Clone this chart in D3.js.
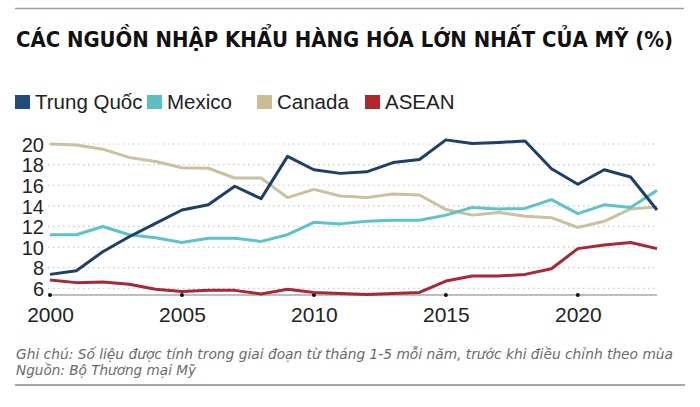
<!DOCTYPE html>
<html>
<head>
<meta charset="utf-8">
<script src="https://cdn.jsdelivr.net/npm/d3@7"></script>
<style>
  html, body { margin: 0; padding: 0; background: #fff; }
  svg { display: block; }
</style>
</head>
<body>
<svg id="chart" width="700" height="407"></svg>
<script>
// ---- Data ----
const years = d3.range(2000, 2024);
const chinaValues  = [7.35, 7.7, 9.55, 11.0, 12.3, 13.6, 14.1, 15.9, 14.7, 18.8, 17.5, 17.15, 17.3, 18.2, 18.5, 20.4, 20.05, 20.15, 20.3, 17.6, 16.1, 17.5, 16.8, 13.6];
const mexicoValues = [11.2, 11.2, 12.0, 11.2, 10.9, 10.45, 10.85, 10.85, 10.55, 11.2, 12.4, 12.25, 12.5, 12.6, 12.6, 13.1, 13.85, 13.7, 13.75, 14.6, 13.25, 14.1, 13.85, 15.5];
const canadaValues = [20.0, 19.9, 19.5, 18.7, 18.3, 17.7, 17.65, 16.7, 16.7, 14.8, 15.6, 14.95, 14.8, 15.15, 15.05, 13.65, 13.1, 13.35, 13.0, 12.85, 11.9, 12.5, 13.7, 13.9];
const aseanValues  = [6.8, 6.55, 6.6, 6.4, 5.9, 5.7, 5.8, 5.8, 5.45, 5.9, 5.6, 5.5, 5.4, 5.5, 5.6, 6.7, 7.2, 7.2, 7.35, 7.9, 9.85, 10.2, 10.45, 9.85];
const seriesNames  = ["Trung Quốc", "Mexico", "Canada", "ASEAN"];
const yTicks = [6, 8, 10, 12, 14, 16, 18, 20];
const xTicks = [2000, 2005, 2010, 2015, 2020];
const titleText = "CÁC NGUỒN NHẬP KHẨU HÀNG HÓA LỚN NHẤT CỦA MỸ (%)";
const noteLines = [
  "Ghi chú: Số liệu được tính trong giai đoạn từ tháng 1-5 mỗi năm, trước khi điều chỉnh theo mùa",
  "Nguồn: Bộ Thương mại Mỹ"
];

// ---- Styles ----
const lineColors   = { "Trung Quốc": "#1e3f66", "Mexico": "#5cc4c4", "Canada": "#c9c1a0", "ASEAN": "#a82833" };
const legendColors = { "Trung Quốc": "#1f4c7e", "Mexico": "#5bc0c2", "Canada": "#c8bd94", "ASEAN": "#b2262d" };
const legendX = [15, 147, 257, 365];
const drawOrder = ["Canada", "Mexico", "ASEAN", "Trung Quốc"];

const seriesData = {
  "Trung Quốc": chinaValues,
  "Mexico": mexicoValues,
  "Canada": canadaValues,
  "ASEAN": aseanValues
};

const svg = d3.select("#chart");
const x = d3.scaleLinear().domain([2000, 2023]).range([50, 657]);
const y = d3.scaleLinear().domain([5.35, 20]).range([295, 144]);

// Top and bottom rules
svg.append("line").attr("x1", 15).attr("x2", 684).attr("y1", 8.5).attr("y2", 8.5)
  .attr("stroke", "#a0a0a0").attr("stroke-width", 1.5);
svg.append("line").attr("x1", 15).attr("x2", 685).attr("y1", 385).attr("y2", 385)
  .attr("stroke", "#8a8a8a").attr("stroke-width", 1.5);

// Title
svg.append("text")
  .attr("x", 16).attr("y", 47)
  .attr("font-family", "'DejaVu Sans Condensed', 'DejaVu Sans', sans-serif")
  .attr("font-weight", "bold")
  .attr("font-size", 21)
  .attr("fill", "#111")
  .attr("textLength", 657)
  .attr("lengthAdjust", "spacingAndGlyphs")
  .text(titleText);

// Legend
const legend = svg.append("g");
seriesNames.forEach((name, i) => {
  const g = legend.append("g").attr("transform", `translate(${legendX[i]},0)`);
  g.append("rect").attr("x", 0).attr("y", 95).attr("width", 15).attr("height", 14)
    .attr("fill", legendColors[name]);
  g.append("text").attr("x", 20).attr("y", 109)
    .attr("font-family", "'Liberation Sans', Arial, sans-serif")
    .attr("font-size", 20.5)
    .attr("fill", "#222")
    .text(name);
});

// Gridlines
const grid = svg.append("g");
grid.selectAll("line").data(yTicks).join("line")
  .attr("x1", 48).attr("x2", 657)
  .attr("y1", d => y(d)).attr("y2", d => y(d))
  .attr("stroke", "#c8c8c8").attr("stroke-width", 1.2)
  .attr("stroke-dasharray", "1.5,3.5");

// Y axis labels
const yAxis = d3.axisLeft(y).tickValues(yTicks).tickSize(0).tickPadding(0);
const yg = svg.append("g").attr("transform", "translate(44,0)").call(yAxis);
yg.select(".domain").remove();
yg.selectAll("text")
  .attr("font-family", "'Liberation Sans', Arial, sans-serif")
  .attr("font-size", 20)
  .attr("fill", "#222")
  .attr("dy", "0.36em");

// X axis
const xAxis = d3.axisBottom(x).tickValues(xTicks).tickFormat(d3.format("d")).tickSize(0).tickPadding(0);
const xg = svg.append("g").attr("transform", "translate(0,295)").call(xAxis);
xg.select(".domain").remove();
xg.selectAll("text")
  .attr("font-family", "'Liberation Sans', Arial, sans-serif")
  .attr("font-size", 21)
  .attr("fill", "#222")
  .attr("dy", 0)
  .attr("y", 26.5);
svg.append("line").attr("x1", x(2000)).attr("x2", x(2023)).attr("y1", 295).attr("y2", 295)
  .attr("stroke", "#a8a8a8").attr("stroke-width", 1.3);
svg.append("g").selectAll("circle").data(xTicks).join("circle")
  .attr("cx", d => x(d)).attr("cy", 295).attr("r", 2).attr("fill", "#111");

// Lines
const line = d3.line().x((d, i) => x(years[i])).y(d => y(d));
svg.append("g").selectAll("path").data(drawOrder).join("path")
  .attr("d", name => line(seriesData[name]))
  .attr("fill", "none")
  .attr("stroke", name => lineColors[name])
  .attr("stroke-width", 3)
  .attr("stroke-linejoin", "round")
  .attr("stroke-linecap", "butt");

// Notes
noteLines.forEach((t, i) => {
  const el = svg.append("text")
    .attr("x", 16).attr("y", 359 + i * 15.5)
    .attr("font-family", "'DejaVu Sans Condensed', 'DejaVu Sans', sans-serif")
    .attr("font-style", "italic")
    .attr("font-size", 14)
    .attr("fill", "#6a6a6a")
    .text(t);
  if (i === 0) el.attr("textLength", 657).attr("lengthAdjust", "spacingAndGlyphs");
  else el.attr("textLength", 180).attr("lengthAdjust", "spacingAndGlyphs");
});
</script>
</body>
</html>
